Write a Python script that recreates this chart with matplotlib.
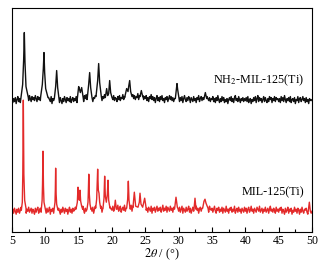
import numpy as np
import matplotlib
matplotlib.use('Agg')
import matplotlib.pyplot as plt
from matplotlib.ticker import MultipleLocator

plt.rcParams['font.family'] = ['Liberation Serif', 'DejaVu Serif']
plt.rcParams['mathtext.fontset'] = 'stix'

# background noise, read every 0.125 deg from 5 to 50 (rows of 5 deg)
bg_step = 0.125
red_bg = [
    3, 6, 2, 7, 4, 1, 6, 3, 7, 2, 5, 8, 3, 6, 1, 5, 7, 2, 6, 4,
    8, 3, 5, 7, 2, 6, 4, 1, 7, 3, 6, 8, 2, 5, 7, 3, 6, 2, 8, 4,
    6, 2, 7, 3, 5, 8, 1, 6, 4, 7, 2, 5, 8, 3, 6, 2, 7, 4, 1, 6,
    3, 8, 5, 2, 7, 4, 6, 1, 5, 8, 3, 6, 2, 7, 4, 5, 8, 2, 6, 3,
    7, 4, 8, 3, 6, 9, 5, 2, 7, 4, 8, 6, 3, 9, 5, 7, 4, 8, 2, 6,
    9, 4, 7, 3, 8, 5, 6, 9, 3, 7, 4, 8, 6, 2, 9, 5, 7, 3, 8, 6,
    5, 9, 4, 7, 3, 8, 6, 10, 4, 7, 9, 3, 6, 8, 5, 10, 4, 7, 9, 5,
    3, 8, 6, 10, 4, 9, 7, 5, 8, 3, 6, 10, 5, 8, 4, 9, 6, 7, 3, 8,
    9, 5, 7, 3, 8, 6, 4, 9, 2, 7, 5, 8, 3, 6, 9, 4, 7, 5, 8, 3,
    6, 10, 4, 7, 5, 9, 3, 8, 6, 4, 9, 5, 7, 3, 8, 6, 4, 9, 5, 7,
    4, 8, 3, 6, 9, 2, 7, 5, 3, 8, 4, 6, 9, 3, 7, 2, 5, 8, 4, 6,
    3, 9, 5, 7, 2, 6, 8, 4, 7, 3, 5, 9, 6, 8, 4, 7, 3, 9, 6, 5,
    7, 3, 6, 9, 4, 2, 7, 5, 8, 3, 6, 4, 8, 2, 7, 5, 3, 9, 4, 6,
    2, 7, 5, 8, 3, 6, 4, 9, 2, 5, 7, 3, 8, 4, 6, 2, 7, 5, 3, 8,
    4, 7, 2, 6, 8, 3, 5, 9, 4, 6, 2, 7, 5, 3, 8, 6, 4, 9, 3, 5,
    7, 2, 6, 4, 8, 3, 5, 7, 2, 6, 9, 4, 6, 3, 7, 5, 2, 8, 4, 6,
    3, 7, 5, 8, 2, 6, 4, 1, 7, 3, 5, 8, 2, 6, 4, 7, 1, 5, 3, 8,
    4, 6, 2, 7, 5, 1, 6, 3, 8, 4, 2, 6, 5, 7, 3, 1, 6, 4, 7, 2,
    4]
nh2_bg = [
    5, 2, 6, 3, 7, 1, 5, 8, 3, 6, 2, 7, 4, 8, 5, 9, 3, 7, 5, 8,
    4, 9, 6, 3, 8, 5, 7, 4, 9, 6, 3, 8, 5, 7, 4, 9, 6, 8, 5, 7,
    8, 4, 6, 2, 7, 5, 3, 8, 1, 6, 4, 7, 2, 5, 3, 8, 6, 2, 7, 4,
    1, 6, 3, 8, 5, 2, 7, 4, 6, 3, 8, 2, 5, 7, 3, 6, 4, 8, 2, 6,
    7, 4, 9, 5, 8, 6, 3, 9, 6, 10, 5, 8, 4, 7, 9, 5, 8, 3, 7, 6,
    9, 4, 8, 6, 10, 5, 9, 7, 4, 8, 6, 10, 7, 5, 9, 6, 8, 4, 9, 6,
    8, 5, 9, 4, 7, 6, 3, 8, 5, 9, 4, 7, 6, 10, 5, 8, 6, 9, 7, 11,
    6, 9, 8, 12, 7, 10, 6, 9, 5, 8, 7, 11, 5, 9, 6, 10, 7, 9, 5, 8,
    6, 9, 4, 7, 3, 8, 6, 10, 5, 8, 4, 7, 2, 6, 9, 4, 7, 3, 8, 5,
    9, 4, 6, 2, 7, 5, 8, 3, 6, 9, 5, 8, 4, 7, 3, 6, 8, 5, 7, 4,
    6, 3, 7, 4, 8, 2, 6, 9, 5, 3, 7, 4, 8, 6, 2, 7, 5, 3, 8, 4,
    6, 2, 7, 5, 9, 3, 6, 8, 4, 7, 5, 9, 6, 10, 8, 6, 4, 7, 3, 6,
    5, 8, 3, 6, 2, 7, 4, 9, 5, 2, 6, 3, 8, 4, 7, 2, 5, 3, 6, 1,
    5, 7, 4, 8, 3, 6, 2, 7, 9, 4, 6, 3, 8, 5, 2, 6, 4, 7, 3, 6,
    4, 7, 3, 8, 2, 5, 6, 1, 5, 3, 7, 4, 8, 2, 6, 9, 3, 7, 4, 6,
    2, 5, 8, 3, 7, 4, 2, 6, 3, 8, 5, 7, 2, 6, 4, 8, 3, 7, 5, 6,
    3, 6, 2, 8, 4, 7, 3, 9, 5, 2, 6, 4, 7, 3, 8, 2, 5, 6, 3, 7,
    1, 5, 4, 8, 2, 6, 7, 3, 5, 8, 4, 6, 2, 7, 3, 5, 1, 6, 4, 5,
    4]

# peak outlines (2theta, intensity)
red_peaks = [
    ([6.4, 6.55, 6.62, 6.7, 6.78, 6.9, 7.1], [5, 13, 41, 115, 41, 15, 7]),
    ([9.4, 9.52, 9.58, 9.65, 9.72, 9.8, 10.0], [6, 15, 31, 64, 29, 13, 6]),
    ([11.3, 11.45, 11.5, 11.55, 11.62, 11.7, 11.9], [5, 13, 25, 47, 21, 11, 5]),
    ([14.6, 14.8, 14.9, 15.0, 15.1, 15.2, 15.3, 15.45, 15.6], [6, 13, 28, 19, 15, 25, 14, 9, 6]),
    ([16.25, 16.4, 16.45, 16.52, 16.6, 16.7, 16.85], [6, 13, 23, 41, 21, 11, 6]),
    ([17.55, 17.7, 17.78, 17.85, 17.95, 18.05, 18.15, 18.3], [7, 16, 31, 46, 25, 22, 13, 7]),
    ([18.65, 18.8, 18.9, 19.0, 19.15, 19.3, 19.4, 19.5, 19.7], [7, 17, 39, 19, 13, 21, 35, 15, 7]),
    ([20.35, 20.5, 20.65], [6, 15, 6]),
    ([22.2, 22.35, 22.45, 22.55, 22.7], [7, 16, 34, 15, 7]),
    ([23.15, 23.35, 23.55, 23.9, 24.1, 24.2, 24.35, 24.6, 24.9, 25.1], [8, 23, 9, 8, 13, 22, 11, 8, 17, 8]),
    ([29.4, 29.6, 29.8], [7, 18, 8]),
    ([32.3, 32.45, 32.6], [6, 17, 6]),
    ([33.6, 33.8, 33.95, 34.1, 34.4], [7, 14, 16, 12, 7]),
    ([49.45, 49.6, 49.75], [5, 13, 4]),
]
nh2_peaks = [
    ([6.35, 6.6, 6.75, 6.85, 6.95, 7.1, 7.45], [7, 20, 45, 72, 42, 18, 7]),
    ([9.3, 9.55, 9.7, 9.8, 9.9, 10.05, 10.4], [8, 20, 36, 52, 32, 16, 7]),
    ([11.35, 11.55, 11.7, 11.85, 12.05], [6, 18, 34, 17, 6]),
    ([14.8, 15.0, 15.1, 15.25, 15.45, 15.7], [6, 18, 16, 12, 17, 6]),
    ([16.3, 16.5, 16.65, 16.8, 17.0], [7, 20, 32, 17, 7]),
    ([17.6, 17.85, 18.0, 18.15, 18.4], [8, 24, 41, 22, 8]),
    ([19.0, 19.2, 19.35, 19.5, 19.65, 19.8, 20.0], [7, 16, 9, 11, 24, 12, 7]),
    ([21.9, 22.2, 22.4, 22.5, 22.65, 22.8, 23.0], [7, 16, 13, 18, 24, 13, 8]),
    ([24.2, 24.4, 24.6], [8, 14, 8]),
    ([29.5, 29.65, 29.75, 29.85, 30.05], [6, 15, 21, 15, 6]),
    ([33.8, 34.0, 34.2], [6, 12, 6]),
]

red_offset = 16.8
nh2_offset = 127.4


def build(bg, peaks):
    x = 5 + bg_step*np.arange(len(bg))
    y = np.array(bg, dtype=float)
    keep = np.ones(len(x), dtype=bool)
    for px, py in peaks:
        keep &= ~((x >= px[0]) & (x <= px[-1]))
    xs = list(x[keep])
    ys = list(y[keep])
    for px, py in peaks:
        xs += px
        ys += py
    order = np.argsort(xs)
    return np.array(xs)[order], np.array(ys)[order]


fig = plt.figure(figsize=(3.24, 2.65), dpi=100)
ax = fig.add_axes([0.037, 0.1245, 0.926, 0.8455])

xr, yr = build(red_bg, red_peaks)
xb, yb = build(nh2_bg, nh2_peaks)
ax.plot(xr, yr + red_offset, color='#e32a2a', lw=1.0)
ax.plot(xb, yb + nh2_offset, color='#111111', lw=1.0)

ax.text(48.8, 152, r'NH$_2$-MIL-125(Ti)', ha='right', va='center', fontsize=8.7)
ax.text(48.8, 40, 'MIL-125(Ti)', ha='right', va='center', fontsize=8.7)

ax.set_xlim(5, 50)
ax.set_ylim(0, 224)
ax.xaxis.set_major_locator(MultipleLocator(5))
ax.xaxis.set_minor_locator(MultipleLocator(2.5))
ax.tick_params(axis='x', which='major', direction='in', length=3.5, width=0.8,
               labelsize=8.5, pad=2, top=False)
ax.tick_params(axis='x', which='minor', direction='in', length=2, width=0.8, top=False)
ax.set_yticks([])
for s in ax.spines.values():
    s.set_linewidth(0.8)
ax.set_xlabel(r'$\mathit{2\theta}$ / (°)', fontsize=8.7, labelpad=0)

plt.savefig('out.png', dpi=100)
